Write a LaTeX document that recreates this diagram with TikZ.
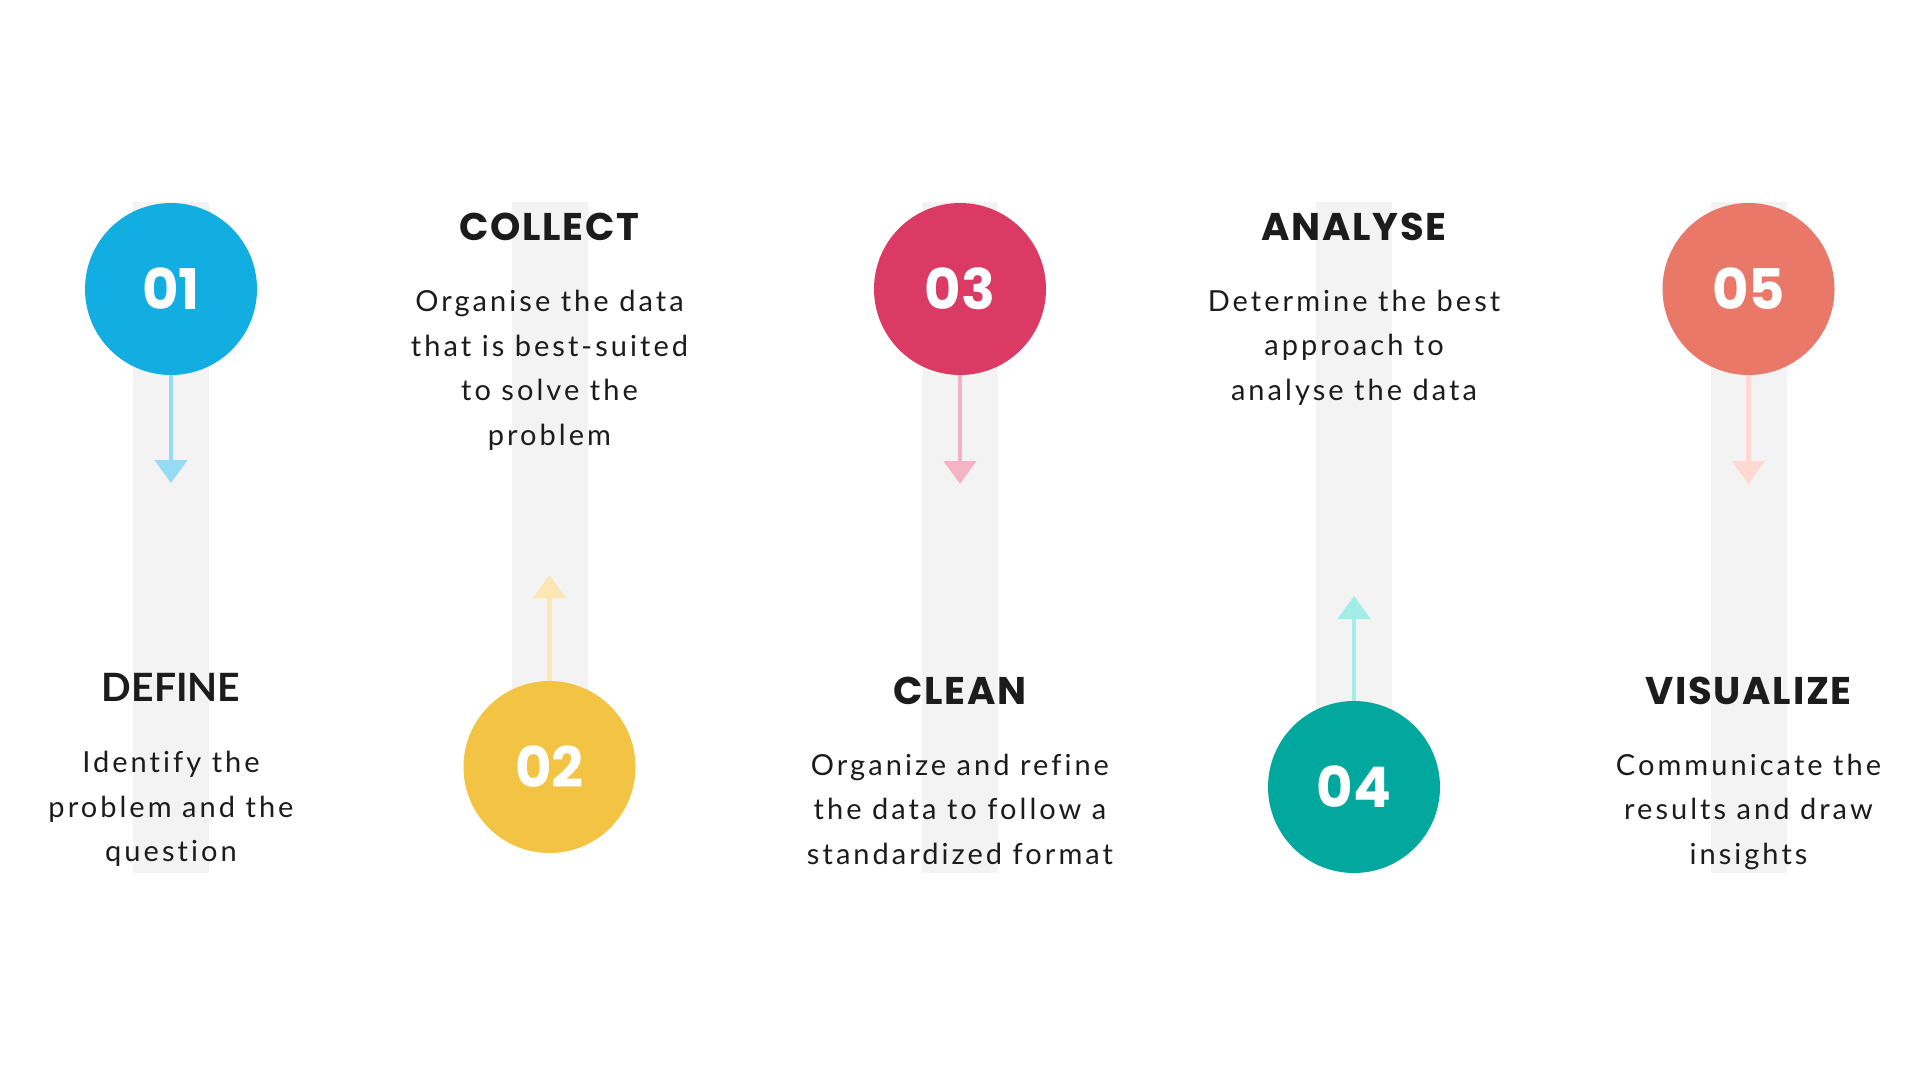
\documentclass[tikz,border=0pt]{standalone}
\usepackage{fontspec}
\setmainfont{Lato}
\newfontfamily\headfont[LetterSpace=4.5]{Poppins}
\newfontfamily\numfont{Poppins}
\newfontfamily\bodyfont[LetterSpace=10.5,Ligatures=NoCommon]{Lato}
\newfontfamily\defnfont{Lato}
\usetikzlibrary{arrows.meta}
\definecolor{stripgray}{HTML}{F3F3F3}
\definecolor{ink}{HTML}{1C1C1C}
\definecolor{cA}{HTML}{12ADE1}
\definecolor{aA}{HTML}{95DBF4}
\definecolor{cB}{HTML}{F3C443}
\definecolor{aB}{HTML}{FCE7B4}
\definecolor{cC}{HTML}{DA3A63}
\definecolor{aC}{HTML}{F5B4C6}
\definecolor{cD}{HTML}{02A89D}
\definecolor{aD}{HTML}{A0EEE7}
\definecolor{cE}{HTML}{EA7868}
\definecolor{aE}{HTML}{FFD8D3}
\begin{document}
\begin{tikzpicture}[x=1pt,y=-1pt,
  stripbox/.style={fill=stripgray, draw=none},
  numcircle/.style={circle, minimum size=172pt, inner sep=0pt, text=white,
    font=\numfont\bfseries\fontsize{56}{56}\selectfont},
  head/.style={anchor=base, text=ink, inner sep=0pt,
    font=\headfont\bfseries\fontsize{38.6}{40}\selectfont},
  defhead/.style={anchor=base, text=ink, inner sep=0pt,
    font=\defnfont\bfseries\fontsize{39}{40}\selectfont},
  body/.style={anchor=base, text=ink, inner sep=0pt,
    font=\bodyfont\fontsize{29}{40}\selectfont},
  flow/.style={line width=4.7pt, -{Triangle[width=32pt,length=23pt]}}
]
\useasboundingbox[fill=white] (0,0) rectangle (1920,1080);

% background strips
\fill[stripgray] (133,202) rectangle (209,873);
\fill[stripgray] (511.5,202) rectangle (587.5,767);
\fill[stripgray] (922,202) rectangle (998,873);
\fill[stripgray] (1316,202) rectangle (1392,787);
\fill[stripgray] (1710.5,202) rectangle (1786.5,873);

% circles
\node[numcircle, fill=cA] (c1) at (171,289) {01};
\node[numcircle, fill=cB] (c2) at (549.5,767) {02};
\node[numcircle, fill=cC] (c3) at (960,289) {03};
\node[numcircle, fill=cD] (c4) at (1354,787) {04};
\node[numcircle, fill=cE] (c5) at (1748.5,289) {05};

% arrow tips
\coordinate (t1) at (171,483);
\coordinate (t2) at (549.5,575);
\coordinate (t3) at (960,484);
\coordinate (t4) at (1354,596);
\coordinate (t5) at (1748.5,484);

\draw[flow, draw=aA, fill=aA] (c1.south) -- (t1);
\draw[flow, draw=aB, fill=aB] (c2.north) -- (t2);
\draw[flow, draw=aC, fill=aC] (c3.south) -- (t3);
\draw[flow, draw=aD, fill=aD] (c4.north) -- (t4);
\draw[flow, draw=aE, fill=aE] (c5.south) -- (t5);

% headings
\node[defhead] (h1) at (171,701.5) {DEFINE};
\node[head] (h2) at (549.5,240.5) {COLLECT};
\node[head] (h3) at (960,704.5) {CLEAN};
\node[head] (h4) at (1354,240.5) {ANALYSE};
\node[head] (h5) at (1748.5,704.5) {VISUALIZE};

% body texts
\node[body] (b1a) at (171,772.7) {Identify the};
\node[body] (b1b) at (171,817.2) {problem and the};
\node[body] (b1c) at (171,861.7) {question};

\node[body] (b2a) at (549.5,311.6) {Organise the data};
\node[body] (b2b) at (549.5,356.2) {that is best-suited};
\node[body] (b2c) at (549.5,400.8) {to solve the};
\node[body] (b2d) at (549.5,445.4) {problem};

\node[body] (b3a) at (960,775) {Organize and refine};
\node[body] (b3b) at (960,819.6) {the data to follow a};
\node[body] (b3c) at (960,864.2) {standardized format};

\node[body] (b4a) at (1354,311.2) {Determine the best};
\node[body] (b4b) at (1354,355.8) {approach to};
\node[body] (b4c) at (1354,400.4) {analyse the data};

\node[body] (b5a) at (1748.5,775) {Communicate the};
\node[body] (b5b) at (1748.5,819.6) {results and draw};
\node[body] (b5c) at (1748.5,864.2) {insights};
\end{tikzpicture}
\end{document}
